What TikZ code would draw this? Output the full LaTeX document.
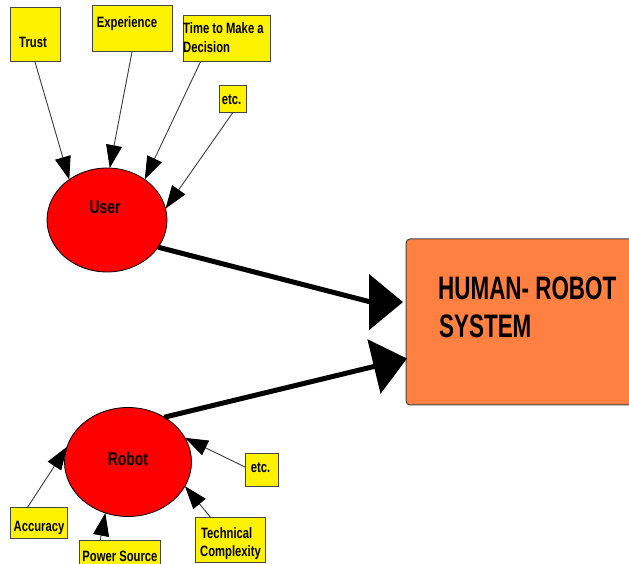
\documentclass[tikz,border=0pt]{standalone}
\usepackage{fontspec}
\usetikzlibrary{arrows.meta,calc,shapes.geometric}
\newfontfamily\lblfont{Liberation Sans Bold}[FakeStretch=0.75]
\newfontfamily\hrsfont{Liberation Sans Bold}[FakeStretch=0.69]
\definecolor{hrsorange}{RGB}{255,128,64}
\definecolor{boxedge}{RGB}{70,70,70}
\definecolor{thinline}{RGB}{60,60,60}
\begin{document}
\begin{tikzpicture}[x=1pt,y=1pt,
  ybox/.style={draw=boxedge, line width=1pt, fill=yellow, inner sep=0pt, outer sep=0pt},
  ell/.style={ellipse, draw=black, line width=0.8pt, fill=red, inner sep=0pt, outer sep=0pt},
  lbl/.style={inner sep=0pt, anchor=base, font=\lblfont\fontsize{15}{19}\selectfont},
  lblw/.style={lbl, anchor=base west},
  bigl/.style={inner sep=0pt, anchor=base, font=\lblfont\fontsize{18.5}{22}\selectfont},
  hrsl/.style={inner sep=0pt, anchor=base west, font=\hrsfont\fontsize{32.5}{38}\selectfont},
  thin/.style={draw=thinline, line width=0.9pt, -{Triangle[length=23pt,width=16pt,color=black]}},
  thick/.style={draw=black, line width=5pt, -{Triangle[length=34pt,width=55pt]}},
]
\useasboundingbox[fill=white] (0,0) rectangle (629,564);

% Orange system box
\node[draw=boxedge, line width=1pt, fill=hrsorange, rounded corners=4pt,
      minimum width=240pt, minimum height=166pt, inner sep=0pt, outer sep=0pt,
      anchor=north west] (hrs) at (406,325) {};
\node[hrsl] (hrst1) at (438,264.4) {HUMAN- ROBOT};
\node[hrsl] (hrst2) at (439,226.4) {SYSTEM};

% Ellipses
\node[ell, minimum width=120pt, minimum height=104pt] (user) at (107,344) {};
\node[bigl] (usert) at (105,350.4) {User};
\node[ell, minimum width=127pt, minimum height=109pt] (robot) at (128,102) {};
\node[bigl] (robott) at (128,98.4) {Robot};

% Yellow boxes (top)
\node[ybox, minimum width=50pt, minimum height=54pt] (trust) at (35,529) {};
\node[lbl] (trustt) at (33,516.6) {Trust};
\node[ybox, minimum width=80pt, minimum height=46pt] (exp) at (132,535) {};
\node[lbl] (expt) at (127,536.6) {Experience};
\node[ybox, minimum width=87pt, minimum height=46pt] (time) at (226.5,525) {};
\node[lblw] (timet1) at (183,530.6) {Time to Make a};
\node[lblw] (timet2) at (183,511.6) {Decision};
\node[ybox, minimum width=27pt, minimum height=27pt] (etc1) at (232.5,464.5) {};
\node[lbl] (etc1t) at (231.5,459.6) {etc.};

% Yellow boxes (bottom)
\node[ybox, minimum width=57pt, minimum height=31pt] (acc) at (38.5,40.5) {};
\node[lbl] (acct) at (39,32.6) {Accuracy};
\node[ybox, minimum width=81pt, minimum height=34pt] (pow) at (119.5,6) {};
\node[lbl] (powt) at (120,2.6) {Power Source};
\node[ybox, minimum width=70pt, minimum height=45pt] (tech) at (230,23.5) {};
\node[lblw] (techt1) at (201,25.6) {Technical};
\node[lblw] (techt2) at (200,7.6) {Complexity};
\node[ybox, minimum width=33pt, minimum height=33pt] (etc2) at (261.5,93.5) {};
\node[lbl] (etc2t) at (260.5,91.6) {etc.};

% Thin arrows into User
\draw[thin] (trust.south) -- (user.133);
\draw[thin] (exp.south) -- (user.87);
\draw[thin] ($(time.south west)!0.2!(time.south east)$) -- (user.47);
\draw[thin] (etc1.south) -- (user.11.5);

% Thin arrows into Robot
\draw[thin] ($(acc.north west)!0.3!(acc.north east)$) -- (robot.166);
\draw[thin] ($(pow.north west)!0.26!(pow.north east)$) -- (robot.246.5);
\draw[thin] ($(tech.north west)!0.23!(tech.north east)$) -- (robot.-23.7);
\draw[thin] ([yshift=3.5pt]etc2.west) -- (robot.23);

% Thick arrows into the system box
\coordinate (t1) at ($(hrs.north west)!0.38!(hrs.south west)+(-3,0)$);
\coordinate (t2) at ($(hrs.north west)!0.72!(hrs.south west)+(1,0)$);
\draw[thick] (user.-28) -- ([xshift=-32pt]t1) -- (t1);
\draw[thick] (robot.51.5) -- (t2);
\end{tikzpicture}
\end{document}
